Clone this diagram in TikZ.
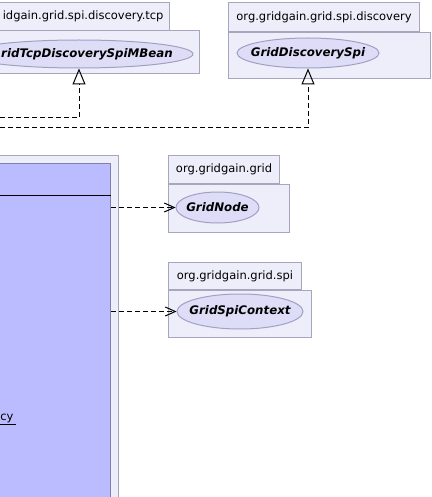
\documentclass[tikz,border=0pt]{standalone}
\usepackage{fontspec}
\setmainfont{DejaVu Sans}
\usetikzlibrary{positioning,arrows.meta,shapes.geometric}
\definecolor{pkgfill}{RGB}{238,238,250}
\definecolor{pkgline}{RGB}{166,166,190}
\definecolor{ifacefill}{RGB}{221,221,248}
\definecolor{ifaceline}{RGB}{160,160,195}
\definecolor{clsfill}{RGB}{187,187,255}
\definecolor{clsline}{RGB}{128,128,170}

\begin{document}
\begin{tikzpicture}[x=1pt,y=-1pt,line width=1pt,
  pkgtab/.style={draw=pkgline,fill=pkgfill,inner xsep=6pt,minimum height=28pt,font=\fontsize{11.5}{13}\selectfont},
  pkgbody/.style={draw=pkgline,fill=pkgfill},
  iface/.style={ellipse,draw=ifaceline,fill=ifacefill,inner sep=0pt,minimum height=30pt,font=\fontsize{11.8}{13}\selectfont\bfseries\itshape},
  dep/.style={dash pattern=on 5pt off 3pt,-{Straight Barb[length=10pt,width=9pt]}},
  real/.style={dash pattern=on 5pt off 3pt,-{Triangle[open,length=16pt,width=13pt]}}]
\path[use as bounding box,clip] (0,0) rectangle (431,497);
% packages at the top
\node[pkgtab,anchor=north east] (tcptab) at (170,2) {idgain.grid.spi.discovery.tcp};
\node[pkgbody,anchor=north east,minimum width=260pt,minimum height=43pt] (tcpbody) at (200,30) {};
\node[iface,minimum width=228pt,minimum height=28pt] (mbean) at (79,54) {\makebox[0pt]{\hspace*{16pt}ridTcpDiscoverySpiMBean}};
\node[pkgtab,anchor=north west,minimum width=191pt,minimum height=29pt] (disctab) at (228,2) {org.gridgain.grid.spi.discovery};
\node[pkgbody,anchor=north west,minimum width=202pt,minimum height=46pt] (discbody) at (disctab.south west) {};
\node[iface,minimum width=142pt] (dspi) at (308,53) {\makebox[0pt]{GridDiscoverySpi}};
% the class
\node[pkgbody,anchor=north east,minimum width=200pt,minimum height=360pt] (frame) at (119,155) {};
\node[draw=clsline,fill=clsfill,anchor=north east,minimum width=190pt,minimum height=350pt] (tcpspi) at (111,163) {};
\draw[black] ([yshift=-32pt]tcpspi.north west) -- ([yshift=-32pt]tcpspi.north east);
\node[anchor=base east,inner sep=0pt,font=\fontsize{11.5}{13}\selectfont] (fld) at (16,420) {\underline{cy\hspace{2pt}}};
% packages on the right
\node[pkgtab,anchor=north west,minimum width=111pt] (gntab) at (168,155) {org.gridgain.grid};
\node[pkgbody,anchor=north west,minimum width=121pt,minimum height=48pt] (gnbody) at (gntab.south west) {};
\node[iface,minimum width=83pt,minimum height=31pt] (gnode) at (217.5,207.5) {\makebox[0pt]{GridNode}};
\node[pkgtab,anchor=north west,minimum width=133pt,minimum height=27pt] (spitab) at (168,262) {org.gridgain.grid.spi};
\node[pkgbody,anchor=north west,minimum width=143pt,minimum height=47pt] (spibody) at (spitab.south west) {};
\node[iface,minimum width=126pt,minimum height=35pt] (spictx) at (240,311.5) {\makebox[0pt]{GridSpiContext}};
% connectors
\coordinate (ra) at (0,118);
\coordinate (rb) at (0,128);
\draw[real] (ra) -| (mbean.south);
\draw[real] (rb) -| (dspi.south);
\draw[dep] (gnode.west -| tcpspi.east) -- (gnode.west);
\draw[dep] (spictx.west -| tcpspi.east) -- (spictx.west);
\end{tikzpicture}
\end{document}
